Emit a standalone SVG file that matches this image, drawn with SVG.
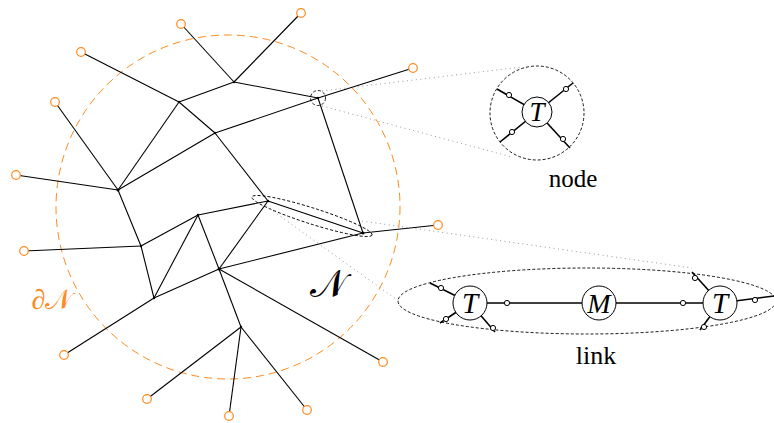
<svg xmlns="http://www.w3.org/2000/svg" width="774" height="423" viewBox="0 0 774 423">
<style>
.e{stroke:#000;stroke-width:1.1;fill:none}
.term{fill:#fff;stroke:#ff8a1f;stroke-width:1.2}
.jn{fill:#000}
.bound{fill:none;stroke:#ff8a1f;stroke-width:1;stroke-dasharray:8 5}
.dash{fill:none;stroke:#000;stroke-width:0.9;stroke-dasharray:3 2}
.dot{stroke:#999;stroke-width:1;stroke-dasharray:1 3.5;fill:none}
.thick{stroke:#000;stroke-width:1.6;fill:none}
.ten{fill:#fff;stroke:#000;stroke-width:1}
.sm{fill:#fff;stroke:#000;stroke-width:1}
</style>
<circle class="bound" cx="228" cy="207" r="172"/>
<g id="connectors">
<line class="e" x1="181" y1="24" x2="234" y2="82"/>
<line class="e" x1="234" y1="82" x2="301" y2="13"/>
<line class="e" x1="234" y1="82" x2="179" y2="102"/>
<line class="e" x1="234" y1="82" x2="318" y2="98"/>
<line class="e" x1="81" y1="52" x2="179" y2="102"/>
<line class="e" x1="179" y1="102" x2="118" y2="190"/>
<line class="e" x1="179" y1="102" x2="215" y2="133"/>
<line class="e" x1="55" y1="102" x2="118" y2="190"/>
<line class="e" x1="16" y1="175" x2="118" y2="190"/>
<line class="e" x1="118" y1="190" x2="215" y2="133"/>
<line class="e" x1="118" y1="190" x2="141" y2="246"/>
<line class="e" x1="215" y1="133" x2="318" y2="98"/>
<line class="e" x1="215" y1="133" x2="268" y2="201"/>
<line class="e" x1="318" y1="98" x2="413" y2="68"/>
<line class="e" x1="318" y1="98" x2="363" y2="233"/>
<line class="e" x1="268" y1="201" x2="198" y2="215"/>
<line class="e" x1="268" y1="201" x2="363" y2="233"/>
<line class="e" x1="268" y1="201" x2="219" y2="269"/>
<line class="e" x1="363" y1="233" x2="438" y2="225"/>
<line class="e" x1="363" y1="233" x2="219" y2="269"/>
<line class="e" x1="219" y1="269" x2="198" y2="215"/>
<line class="e" x1="219" y1="269" x2="154" y2="298"/>
<line class="e" x1="219" y1="269" x2="241" y2="327"/>
<line class="e" x1="219" y1="269" x2="383" y2="362"/>
<line class="e" x1="241" y1="327" x2="147" y2="399"/>
<line class="e" x1="241" y1="327" x2="229" y2="416"/>
<line class="e" x1="241" y1="327" x2="307" y2="410"/>
<line class="e" x1="141" y1="246" x2="24" y2="251"/>
<line class="e" x1="141" y1="246" x2="198" y2="215"/>
<line class="e" x1="141" y1="246" x2="154" y2="298"/>
<line class="e" x1="198" y1="215" x2="154" y2="298"/>
<line class="e" x1="154" y1="298" x2="64" y2="355"/>
</g>
<g id="junctions">
<circle class="jn" cx="234" cy="82" r="1.2"/>
<circle class="jn" cx="179" cy="102" r="1.2"/>
<circle class="jn" cx="215" cy="133" r="1.2"/>
<circle class="jn" cx="118" cy="190" r="1.5"/>
<circle class="jn" cx="318" cy="98" r="1.2"/>
<circle class="jn" cx="268" cy="201" r="1.2"/>
<circle class="jn" cx="363" cy="233" r="1.5"/>
<circle class="jn" cx="219" cy="269" r="1.5"/>
<circle class="jn" cx="241" cy="327" r="1.2"/>
<circle class="jn" cx="141" cy="246" r="1.2"/>
<circle class="jn" cx="198" cy="215" r="1.2"/>
<circle class="jn" cx="154" cy="298" r="1.2"/>
</g>
<g id="terminals">
<circle class="term" cx="181" cy="24" r="4.3"/>
<circle class="term" cx="81" cy="52" r="4.3"/>
<circle class="term" cx="55" cy="102" r="4.3"/>
<circle class="term" cx="16" cy="175" r="4.3"/>
<circle class="term" cx="301" cy="13" r="4.3"/>
<circle class="term" cx="413" cy="68" r="4.3"/>
<circle class="term" cx="24" cy="251" r="4.3"/>
<circle class="term" cx="64" cy="355" r="4.3"/>
<circle class="term" cx="147" cy="399" r="4.3"/>
<circle class="term" cx="229" cy="416" r="4.3"/>
<circle class="term" cx="307" cy="410" r="4.3"/>
<circle class="term" cx="383" cy="362" r="4.3"/>
<circle class="term" cx="438" cy="225" r="4.3"/>
</g>
<g id="highlights">
<circle class="dash" cx="318" cy="98" r="7.5"/>
<ellipse class="dash" cx="312" cy="216" rx="63" ry="8" transform="rotate(17.6 312 216)"/>
<line class="dot" x1="322" y1="91" x2="522" y2="67"/>
<line class="dot" x1="322" y1="106" x2="512" y2="157"/>
<line class="dot" x1="362" y1="221" x2="692" y2="268"/>
<line class="dot" x1="266" y1="206" x2="400" y2="302"/>
</g>
<text x="328" y="297" font-family="'Liberation Serif', serif" font-size="38" text-anchor="middle">𝒩</text>
<text x="52" y="309" font-family="'Liberation Serif', serif" font-size="28" text-anchor="middle" fill="#ff8a1f">∂𝒩</text>
<g id="node-inset">
<circle class="dash" cx="537" cy="113" r="47"/>
<line class="thick" x1="497" y1="89" x2="537" y2="112"/>
<line class="thick" x1="573" y1="83" x2="537" y2="112"/>
<line class="thick" x1="500" y1="142" x2="537" y2="112"/>
<line class="thick" x1="570" y1="148" x2="537" y2="112"/>
<circle class="sm" cx="509" cy="95" r="2.6"/>
<circle class="sm" cx="566" cy="89" r="2.6"/>
<circle class="sm" cx="512" cy="132" r="2.6"/>
<circle class="sm" cx="563" cy="139" r="2.6"/>
<circle class="ten" cx="537" cy="112" r="15"/>
<text x="537" y="121" font-family="'Liberation Serif', serif" font-style="italic" font-size="27" text-anchor="middle">T</text>
<text x="573" y="187" font-family="'Liberation Serif', serif" font-size="25" text-anchor="middle">node</text>
</g>
<g id="link-inset">
<ellipse class="dash" cx="587" cy="301" rx="189" ry="33"/>
<line class="thick" x1="470" y1="303" x2="720" y2="303"/>
<line class="thick" x1="430" y1="283" x2="470" y2="303"/>
<line class="thick" x1="440" y1="323" x2="470" y2="303"/>
<line class="thick" x1="495" y1="332" x2="470" y2="303"/>
<line class="thick" x1="692" y1="272" x2="720" y2="303"/>
<line class="thick" x1="700" y1="330" x2="720" y2="303"/>
<line class="thick" x1="774" y1="296" x2="720" y2="303"/>
<circle class="sm" cx="441" cy="288" r="2.6"/>
<circle class="sm" cx="446" cy="319" r="2.6"/>
<circle class="sm" cx="493" cy="328" r="2.6"/>
<circle class="sm" cx="507" cy="303" r="2.6"/>
<circle class="sm" cx="683" cy="303" r="2.6"/>
<circle class="sm" cx="695" cy="278" r="2.6"/>
<circle class="sm" cx="704" cy="327" r="2.6"/>
<circle class="sm" cx="755" cy="300" r="2.6"/>
<circle class="ten" cx="470" cy="303" r="17"/>
<circle class="ten" cx="599" cy="303" r="17"/>
<circle class="ten" cx="720" cy="303" r="17"/>
<text x="470" y="313" font-family="'Liberation Serif', serif" font-style="italic" font-size="29" text-anchor="middle">T</text>
<text x="599" y="313" font-family="'Liberation Serif', serif" font-style="italic" font-size="28" text-anchor="middle">M</text>
<text x="720" y="313" font-family="'Liberation Serif', serif" font-style="italic" font-size="29" text-anchor="middle">T</text>
<text x="596" y="364" font-family="'Liberation Serif', serif" font-size="26" text-anchor="middle">link</text>
</g>
</svg>
